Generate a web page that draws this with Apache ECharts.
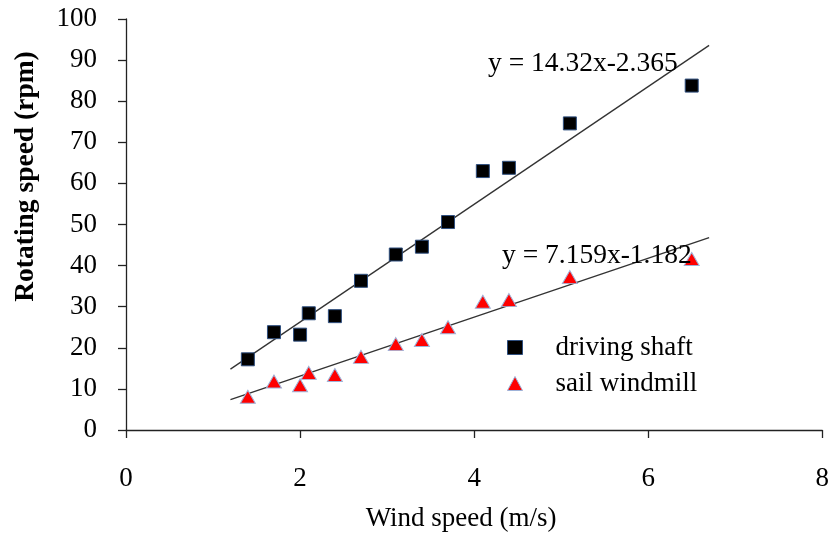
<!DOCTYPE html>
<html>
<head>
<meta charset="utf-8">
<script src="https://cdn.jsdelivr.net/npm/echarts@6/dist/echarts.min.js"></script>
<style>
  html, body { margin: 0; padding: 0; background: #fff; }
  #chart { width: 832px; height: 537px; }
</style>
</head>
<body>
<div id="chart"></div>
<script>
// ---- data ----
const windSpeed = [1.4, 1.7, 2.0, 2.1, 2.4, 2.7, 3.1, 3.4, 3.7, 4.1, 4.4, 5.1, 6.5];
const drivingShaft = [17.2, 23.8, 23.2, 28.4, 27.7, 36.3, 42.7, 44.6, 50.6, 63.0, 63.8, 74.6, 83.8];
const sailWindmill = [8.1, 11.8, 10.9, 13.9, 13.4, 17.8, 20.9, 21.9, 25.0, 31.2, 31.6, 37.2, 41.6];
const seriesNames = ['driving shaft', 'sail windmill'];
// linear trend lines shown in the chart: y = a*x + b
const trendShaft = [14.32, -2.365];
const trendSail = [7.159, -1.182];
const trendXRange = [1.2, 6.7];
const equationTexts = ['y = 14.32x-2.365', 'y = 7.159x-1.182'];
const xTicks = [0, 2, 4, 6, 8];
const yTicks = [0, 10, 20, 30, 40, 50, 60, 70, 80, 90, 100];

const FONT = 'Liberation Serif';

function pairs(xs, ys) { return xs.map((x, i) => [x, ys[i]]); }
function trend(coef) { return trendXRange.map(x => [x, coef[0] * x + coef[1]]); }

const chart = echarts.init(document.getElementById('chart'), null, { renderer: 'canvas' });

chart.setOption({
  animation: false,
  backgroundColor: '#ffffff',
  textStyle: { fontFamily: FONT },
  grid: { left: 126, right: 7, top: 19, bottom: 107, containLabel: false },
  xAxis: {
    type: 'value',
    min: xTicks[0], max: xTicks[xTicks.length - 1], interval: 2,
    name: 'Wind speed (m/s)',
    nameLocation: 'middle',
    nameGap: 75,
    nameTextStyle: { fontFamily: FONT, fontSize: 27, color: '#000', padding: [0, 26, 0, 0] },
    axisLine: { show: true, onZero: false, lineStyle: { color: '#222', width: 1.3 } },
    axisTick: { show: true, inside: false, length: 8, lineStyle: { color: '#222', width: 1.3 } },
    axisLabel: { margin: 35, fontFamily: FONT, fontSize: 27, color: '#000' },
    splitLine: { show: false }
  },
  yAxis: {
    type: 'value',
    min: yTicks[0], max: yTicks[yTicks.length - 1], interval: 10,
    name: 'Rotating speed (rpm)',
    nameLocation: 'middle',
    nameGap: 86,
    nameRotate: 90,
    nameTextStyle: { fontFamily: FONT, fontSize: 27.5, fontWeight: 'bold', color: '#000', padding: [0, 0, 0, 96] },
    axisLine: { show: true, onZero: false, lineStyle: { color: '#222', width: 1.3 } },
    axisTick: { show: true, inside: false, length: 8, lineStyle: { color: '#222', width: 1.3 } },
    axisLabel: { margin: 29, fontFamily: FONT, fontSize: 27, color: '#000' },
    splitLine: { show: false }
  },
  legend: {
    orient: 'vertical',
    left: 507,
    top: 334,
    padding: 0,
    itemWidth: 15,
    itemHeight: 14,
    itemGap: 9,
    formatter: '{t|{name}}',
    textStyle: {
      fontFamily: FONT, fontSize: 27, color: '#000',
      rich: { t: { fontFamily: FONT, fontSize: 27, color: '#000', padding: [0, 0, 0, 28] } }
    },
    data: [
      { name: seriesNames[0], icon: 'rect',
        itemStyle: { color: '#000', borderColor: '#2F4F7F', borderWidth: 1 } },
      { name: seriesNames[1], icon: 'triangle',
        itemStyle: { color: '#ff0000', borderColor: '#9FB3D9', borderWidth: 1 } }
    ]
  },
  series: [
    {
      name: 'trend shaft', type: 'line', data: trend(trendShaft),
      symbol: 'none', lineStyle: { color: '#333', width: 1.3 }, z: 1, silent: true
    },
    {
      name: 'trend sail', type: 'line', data: trend(trendSail),
      symbol: 'none', lineStyle: { color: '#333', width: 1.3 }, z: 1, silent: true
    },
    {
      name: seriesNames[0], type: 'scatter', data: pairs(windSpeed, drivingShaft),
      symbol: 'rect', symbolSize: 13,
      itemStyle: { color: '#000', borderColor: '#2F4F7F', borderWidth: 1, opacity: 1 }, z: 3
    },
    {
      name: seriesNames[1], type: 'scatter', data: pairs(windSpeed, sailWindmill),
      symbol: 'triangle', symbolSize: [15, 13],
      itemStyle: { color: '#ff0000', borderColor: '#9FB3D9', borderWidth: 1, opacity: 1 }, z: 3
    }
  ],
  graphic: [
    { type: 'text', left: 488, top: 50, z: 10,
      style: { text: equationTexts[0], font: '27.5px "Liberation Serif"', fill: '#000' } },
    { type: 'text', left: 502, top: 242, z: 10,
      style: { text: equationTexts[1], font: '27.5px "Liberation Serif"', fill: '#000' } }
  ]
});
</script>
</body>
</html>
